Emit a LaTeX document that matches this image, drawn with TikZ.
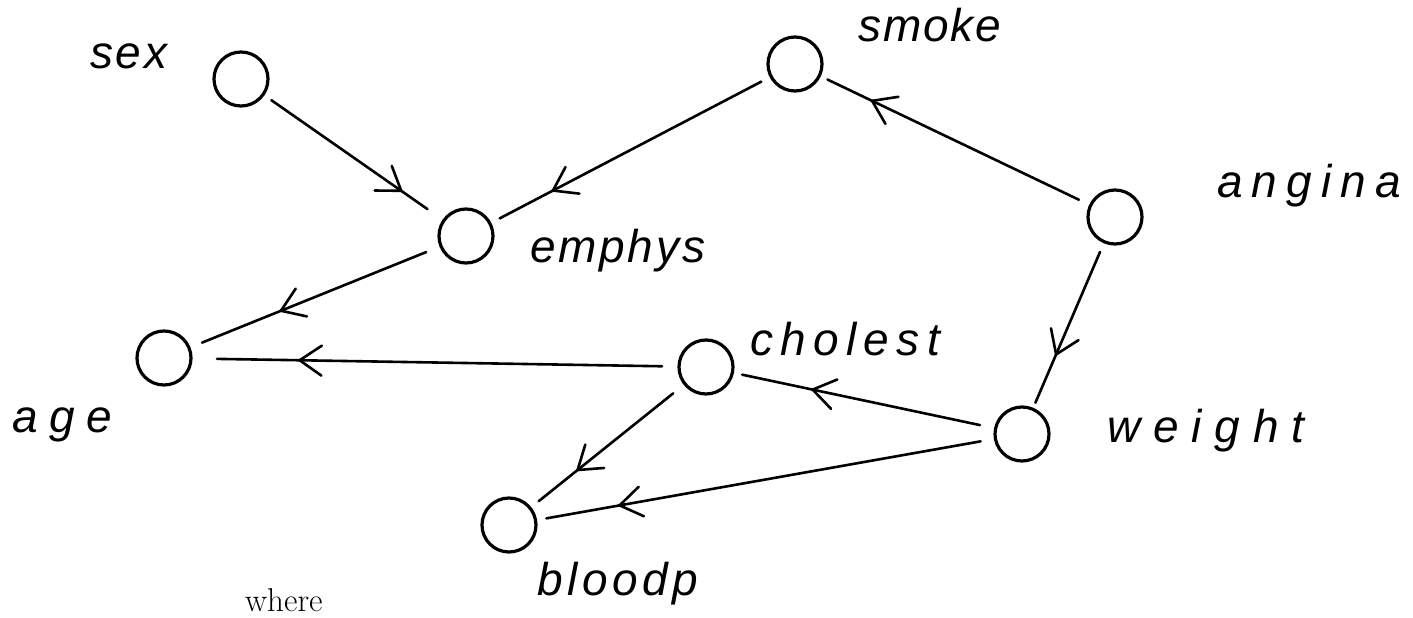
\documentclass[tikz,border=0pt]{standalone}
\usepackage{fontspec}
\newfontfamily\hand{Liberation Sans}
\newcommand\lsp[1]{\addfontfeature{LetterSpace=#1}}
\usetikzlibrary{arrows.meta,decorations.markings}
\begin{document}
\begin{tikzpicture}[x=1pt,y=-1pt,
  var/.style={circle,draw,line width=3.2pt,minimum size=54pt,inner sep=0pt,outer sep=0pt},
  lbl/.style={anchor=base west,inner sep=0pt,font=\hand\itshape\fontsize{46}{54}\selectfont},
  conn/.style={line width=2.6pt,line cap=round,postaction={decorate},
    decoration={markings,mark=at position #1 with {\arrow{Straight Barb[length=22pt,width=30pt,round]}}}},
]
\useasboundingbox (0,0) rectangle (1413,618);
% variables
\node[var] (sex) at (241,79) {};
\node[var] (smoke) at (795,64) {};
\node[var] (angina) at (1115,217) {};
\node[var] (emphys) at (466,236) {};
\node[var] (age) at (164,358) {};
\node[var] (cholest) at (706,367) {};
\node[var] (weight) at (1022,434) {};
\node[var] (bloodp) at (509,525) {};
% labels
\node[lbl] (lsex) at (90,68) {\lsp{6}sex};
\node[lbl] (lsmoke) at (858,42) {\lsp{4}smoke};
\node[lbl] (langina) at (1217,197) {\lsp{20}angina};
\node[lbl] (lemphys) at (530,262) {\lsp{6}emphys};
\node[lbl] (lage) at (12,432) {\lsp{25}age};
\node[lbl] (lcholest) at (750,355) {\lsp{16}cholest};
\node[lbl] (lweight) at (1107,442) {\lsp{28}weight};
\node[lbl] (lbloodp) at (537,595) {\lsp{10}bloodp};
\node[anchor=base west,inner sep=0pt,font=\fontsize{33}{38}\selectfont] (where) at (245,611) {where};
% edges
\draw[conn=0.77, shorten <=10pt, shorten >=20pt] (sex) -- (emphys);
\draw[conn=0.78, shorten <=11pt, shorten >=11pt] (smoke) -- (emphys);
\draw[conn=0.81, shorten <=13pt, shorten >=9pt] (angina) -- (smoke);
\draw[conn=0.64, shorten <=16pt, shorten >=14pt] (emphys) -- (age);
\draw[conn=0.78, shorten <=17pt, shorten >=26pt] (cholest) -- (age);
\draw[conn=0.68, shorten <=11pt, shorten >=7pt] (angina) -- (weight);
\draw[conn=0.70, shorten <=16pt, shorten >=10pt] (weight) -- (cholest);
\draw[conn=0.82, shorten <=15pt, shorten >=11pt] (weight) -- (bloodp);
\draw[conn=0.70, shorten <=15pt, shorten >=11pt] (cholest) -- (bloodp);
\end{tikzpicture}
\end{document}
